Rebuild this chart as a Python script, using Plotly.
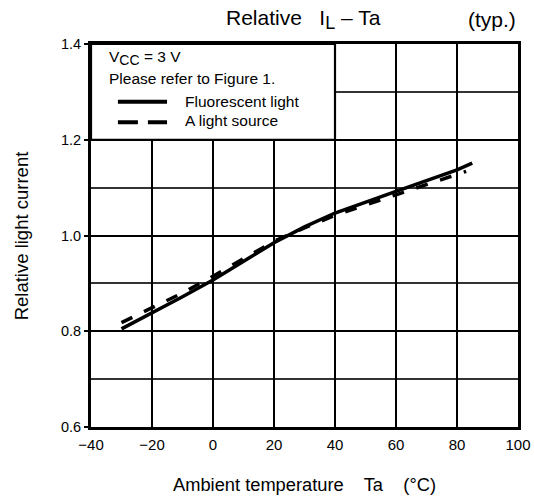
import plotly.graph_objects as go

# Data
ta_fluor = [-30, -20, -10, 0, 10, 20, 30, 40, 60, 80, 85]
il_fluor = [0.805, 0.838, 0.872, 0.907, 0.947, 0.985, 1.018, 1.047, 1.092, 1.137, 1.151]
ta_alight = [-30, -20, -10, 0, 10, 20, 30, 40, 60, 80, 83]
il_alight = [0.818, 0.848, 0.880, 0.915, 0.952, 0.988, 1.016, 1.042, 1.085, 1.128, 1.134]

x_ticks = [-40, -20, 0, 20, 40, 60, 80, 100]
y_ticks = [0.6, 0.8, 1.0, 1.2, 1.4]
y_tick_text = ["0.6", "0.8", "1.0", "1.2", "1.4"]

FONT = "Liberation Sans, Arial, sans-serif"

fig = go.Figure()
fig.add_trace(go.Scatter(x=ta_fluor, y=il_fluor, mode="lines",
                         line=dict(color="black", width=3.5),
                         name="Fluorescent light", showlegend=False))
fig.add_trace(go.Scatter(x=ta_alight, y=il_alight, mode="lines",
                         line=dict(color="black", width=3.5, dash="12px,13px"),
                         name="A light source", showlegend=False))

# White inset box (legend area) hiding the grid
fig.add_shape(type="rect", xref="x", yref="y", x0=-40, x1=40, y0=1.2, y1=1.4,
              fillcolor="white", line=dict(color="black", width=2.2), layer="above")
# legend samples
fig.add_shape(type="line", xref="x domain", yref="y domain", x0=0.063, x1=0.178,
              y0=0.849, y1=0.849, line=dict(color="black", width=4), layer="above")
fig.add_shape(type="line", xref="x domain", yref="y domain", x0=0.063, x1=0.178,
              y0=0.796, y1=0.796, line=dict(color="black", width=4, dash="20px,10px"),
              layer="above")

ann = [
    dict(text="V<sub><span style='font-size:14px'>CC</span></sub> = 3 V", x=0.0375, y=0.963, xanchor="left", size=15.5),
    dict(text="Please refer to Figure 1.", x=0.0375, y=0.909, xanchor="left", size=15.5),
    dict(text="Fluorescent light", x=0.215, y=0.851, xanchor="left", size=15.5),
    dict(text="A light source", x=0.215, y=0.799, xanchor="left", size=15.5),
    dict(text="Relative   I<sub><span style='font-size:18px'>L</span></sub> – Ta", x=0.4965, y=1.063, xanchor="center", size=21),
    dict(text="(typ.)", x=0.939, y=1.063, xanchor="center", size=21),
    dict(text="Ambient temperature    Ta    (°C)", x=0.501, y=-0.149, xanchor="center", size=18.3),
]
for a in ann:
    fig.add_annotation(text=a["text"], x=a["x"], y=a["y"], xref="paper", yref="paper",
                       xanchor=a["xanchor"], yanchor="middle", showarrow=False,
                       font=dict(family=FONT, size=a["size"], color="black"))
fig.add_annotation(text="Relative light current", x=-0.162, y=0.5, xref="paper", yref="paper",
                   textangle=-90, showarrow=False, xanchor="center", yanchor="middle",
                   font=dict(family=FONT, size=18.5, color="black"))

fig.update_xaxes(range=[-40, 100], tickvals=x_ticks, showgrid=True, gridcolor="black",
                 gridwidth=2, showline=True, linecolor="black", linewidth=3, mirror=True,
                 zeroline=False, ticks="", ticklabelstandoff=2, automargin=False,
                 tickfont=dict(family=FONT, size=15, color="black"))
fig.update_yaxes(range=[0.6, 1.4], tickvals=y_ticks, ticktext=y_tick_text,
                 showgrid=True, gridcolor="black", gridwidth=2, automargin=False,
                 minor=dict(dtick=0.1, showgrid=True, gridcolor="#333333", gridwidth=1.5, ticks=""),
                 showline=True, linecolor="black", linewidth=3, mirror=True, zeroline=False,
                 ticks="outside", ticklen=4, tickwidth=1.5, tickcolor="black",
                 tickfont=dict(family=FONT, size=14.5, color="black"))

fig.update_layout(width=534, height=499, margin=dict(l=91, r=16, t=44, b=72),
                  plot_bgcolor="white", paper_bgcolor="white", showlegend=False,
                  font=dict(family=FONT, color="black"))

# remove the default 8px page margin so the figure fills the window exactly
fig.write_html("out.html", config={"displayModeBar": False},
               post_script="document.body.style.margin='0';document.body.style.overflow='hidden';")
